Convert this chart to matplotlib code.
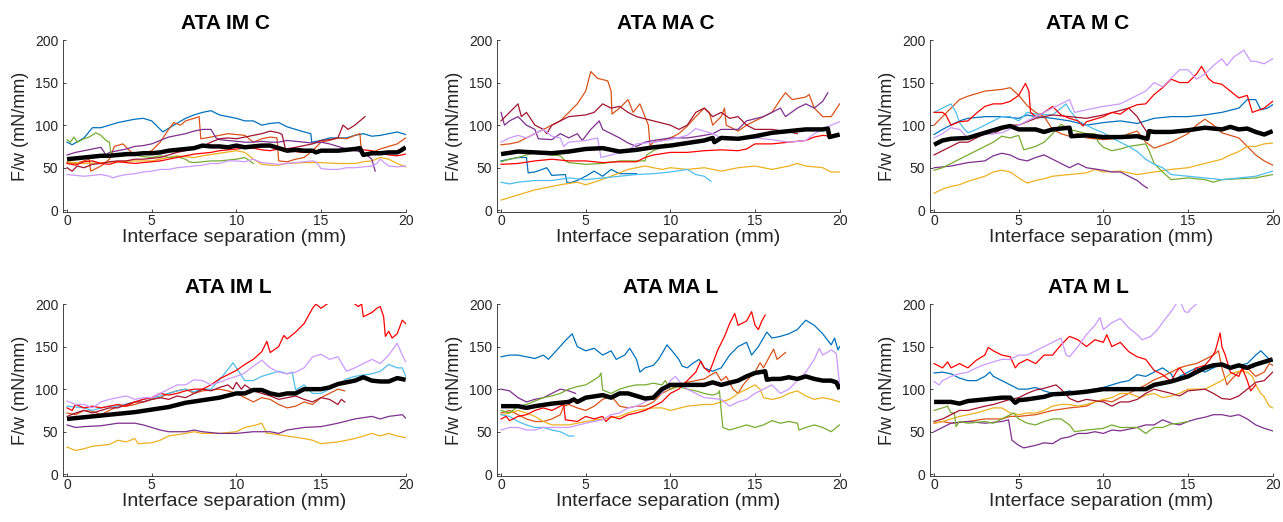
import matplotlib
matplotlib.use("Agg")
import matplotlib.pyplot as plt

# line colours (MATLAB default order plus red and lavender)
blue = '#0072BD'
orange = '#D95319'
yellow = '#EDB120'
purple = '#7E2F8E'
green = '#77AC30'
lightblue = '#4DBEEE'
darkred = '#A2142F'
red = '#FF0000'
lavender = '#CC99FF'

titles = ['ATA IM C', 'ATA MA C', 'ATA M C', 'ATA IM L', 'ATA MA L', 'ATA M L']
xticks = [0, 5, 10, 15, 20]
yticks = [0, 50, 100, 150, 200]

# ---------------- ATA IM C ----------------
imc_blue_x = [0, 0.3, 1, 1.5, 2, 2.5, 3, 3.5, 4, 4.5, 5, 5.66, 6.3, 7, 7.5, 8, 8.5, 9, 9.5, 10, 10.5, 11, 11.5, 12, 12.5, 13, 13.5, 14, 14.4, 14.45, 15, 15.5, 16, 16.5, 17, 17.5, 18, 18.5, 19, 19.5, 20]
imc_blue_y = [80, 77, 85, 97, 97, 100, 103, 105, 107, 108, 105, 92, 100, 108, 112, 115, 117, 112, 110, 108, 105, 105, 100, 102, 103, 98, 95, 92, 90, 80, 82, 85, 85, 85, 88, 90, 87, 88, 90, 92, 89]
imc_orange_x = [0, 0.5, 1, 1.3, 1.4, 2, 2.5, 2.8, 3.3, 3.8, 4.3, 5, 5.5, 6, 6.3, 6.7, 7, 7.5, 7.8, 7.9, 8.5, 9, 9.5, 10, 10.5, 11, 11.5, 12, 12.4, 12.5, 13, 13.5, 14, 14.5, 15, 15.5, 16, 16.5, 17, 17.3, 17.4, 18, 18.5, 19, 19.5, 20]
imc_orange_y = [56, 55, 58, 60, 46, 52, 60, 75, 78, 68, 66, 70, 80, 95, 103, 100, 105, 108, 110, 84, 86, 88, 90, 89, 88, 80, 84, 86, 85, 58, 57, 60, 62, 70, 80, 82, 85, 84, 88, 90, 65, 68, 72, 75, 78, 85]
imc_yellow_x = [0, 1, 2, 3, 4, 5, 5.5, 6, 6.5, 7, 7.5, 8, 9, 10, 10.5, 11, 11.5, 12, 12.5, 13, 14, 15, 16, 17, 17.5, 18, 18.5, 19, 19.5, 20]
imc_yellow_y = [57, 55, 56, 57, 58, 58, 60, 62, 64, 63, 62, 64, 67, 70, 68, 60, 54, 53, 53, 55, 56, 56, 55, 55, 57, 58, 62, 60, 55, 51]
imc_purple_x = [0, 0.5, 1, 1.5, 2, 2.3, 2.5, 3, 3.5, 4, 4.5, 5, 5.5, 6, 6.5, 7, 7.5, 8, 8.5, 8.8, 9, 9.5, 10, 10.5, 11, 11.5, 12, 12.5, 13, 13.5, 14, 14.5, 15, 15.5, 16, 16.5, 17, 17.5, 18, 18.2]
imc_purple_y = [65, 68, 70, 72, 74, 65, 68, 70, 72, 75, 76, 78, 82, 86, 88, 90, 93, 95, 95, 85, 83, 82, 81, 80, 80, 81, 80, 80, 82, 81, 80, 79, 80, 78, 75, 72, 70, 68, 60, 46]
imc_green_x = [0, 0.2, 0.4, 0.6, 0.8, 1, 1.3, 1.7, 2, 2.3, 2.5, 2.6, 3, 3.5, 4, 4.5, 5, 5.5, 6, 6.5, 7, 7.2, 7.5, 8, 8.5, 9, 9.5, 10, 10.5, 11]
imc_green_y = [83, 80, 86, 80, 82, 84, 86, 91, 88, 82, 80, 66, 63, 64, 65, 63, 62, 64, 62, 63, 60, 57, 56, 57, 58, 58, 59, 60, 62, 55]
imc_darkred_x = [0, 0.3, 0.6, 1, 1.5, 2, 2.5, 3, 3.5, 4, 4.5, 5, 5.5, 6, 6.5, 7, 7.5, 8, 8.5, 9, 9.5, 10, 10.5, 11, 11.5, 12, 12.5, 12.7, 12.9, 13.5, 14, 14.5, 15, 15.5, 16, 16.3, 16.6, 17, 17.3, 17.6]
imc_darkred_y = [50, 46, 52, 50, 54, 55, 57, 58, 58, 60, 60, 61, 62, 65, 68, 70, 72, 75, 80, 84, 85, 84, 86, 88, 90, 93, 91, 89, 72, 74, 76, 78, 82, 83, 85, 100, 95, 100, 105, 110]
imc_red_x = [0, 0.5, 1, 1.5, 2, 2.5, 3, 3.5, 4, 4.5, 5, 5.5, 6, 6.5, 7, 7.5, 8, 8.5, 9, 9.5, 10, 10.5, 11, 11.5, 12, 12.5, 13, 13.5, 14, 14.5, 15, 15.5, 16, 16.5, 17, 17.5, 18, 18.5, 19, 19.5, 20]
imc_red_y = [55, 53, 57, 58, 55, 54, 57, 56, 55, 56, 57, 58, 60, 62, 64, 66, 67, 68, 70, 71, 72, 73, 73, 71, 70, 72, 70, 69, 68, 69, 70, 71, 70, 71, 72, 71, 70, 67, 65, 64, 66]
imc_lavender_x = [0, 0.5, 1, 1.5, 2, 2.5, 2.7, 3, 3.5, 4, 4.5, 5, 5.5, 6, 6.5, 7, 7.5, 8, 8.5, 9, 9.5, 10, 10.5, 11, 11.5, 12, 12.5, 13, 13.5, 14, 14.5, 14.7, 15, 15.5, 16, 16.5, 17, 17.5, 18, 18.3, 18.5, 18.8, 19, 19.5, 20]
imc_lavender_y = [42, 41, 40, 41, 42, 40, 38, 40, 42, 43, 45, 46, 48, 48, 50, 51, 52, 53, 55, 55, 58, 58, 57, 60, 56, 55, 54, 55, 56, 57, 58, 57, 49, 48, 48, 50, 50, 51, 52, 55, 60, 55, 52, 51, 52]
imc_mean_x = [0, 0.5, 1, 1.5, 2, 2.5, 3, 3.5, 4, 4.5, 5, 5.5, 6, 6.5, 7, 7.5, 8, 8.5, 9, 9.5, 10, 10.5, 11, 11.5, 12, 12.5, 13, 13.5, 14, 14.5, 14.7, 15, 15.5, 16, 16.5, 17, 17.3, 17.5, 18, 18.5, 19, 19.5, 19.7, 20]
imc_mean_y = [60, 61, 62, 63, 64, 64, 65, 66, 66, 67, 67, 68, 70, 71, 72, 73, 76, 75, 75, 74, 76, 74, 75, 76, 76, 73, 70, 71, 70, 70, 68, 70, 70, 70, 71, 72, 73, 65, 67, 67, 68, 68, 70, 74]

# ---------------- ATA MA C ----------------
mac_orange_x = [0, 0.5, 1, 1.5, 2, 2.5, 3, 3.5, 4, 4.5, 5, 5.3, 5.7, 6.3, 6.5, 6.55, 7, 7.5, 7.8, 8.2, 8.5, 8.7, 8.8, 9, 9.5, 10, 10.5, 11, 11.5, 12, 12.3, 12.5, 13, 13.2, 13.3, 14, 14.5, 15, 15.5, 16, 16.5, 16.8, 17.2, 18, 18.2, 18.5, 19, 19.5, 20]
mac_orange_y = [77, 78, 80, 85, 90, 95, 100, 105, 115, 125, 140, 163, 155, 152, 140, 113, 120, 130, 115, 125, 110, 100, 76, 80, 82, 85, 90, 99, 110, 120, 115, 100, 110, 120, 100, 93, 100, 105, 110, 115, 130, 138, 130, 133, 136, 120, 110, 110, 125]
mac_darkred_x = [0, 0.5, 1, 1.2, 1.5, 2, 2.5, 2.7, 3, 3.5, 4, 5, 5.5, 6, 6.5, 7, 7.5, 8, 9, 10, 10.5, 11, 11.5, 12, 12.5, 13, 13.5, 14, 14.5, 15, 16, 17, 17.5]
mac_darkred_y = [105, 115, 125, 110, 115, 100, 95, 90, 100, 105, 110, 112, 115, 125, 120, 122, 115, 110, 105, 100, 95, 100, 115, 120, 110, 115, 108, 110, 100, 95, 95, 92, 90]
mac_purple_x = [0, 0.2, 0.5, 1, 1.5, 2, 2.2, 3, 3.5, 4, 4.5, 4.8, 5.3, 5.8, 6, 6.5, 7, 7.5, 8, 8.5, 9, 10, 11, 12, 12.5, 13, 14, 14.5, 15.5, 16, 16.5, 16.8, 17.5, 18, 18.5, 19, 19.3]
mac_purple_y = [115, 100, 105, 110, 100, 95, 84, 83, 90, 85, 90, 82, 95, 105, 95, 90, 85, 79, 75, 80, 82, 85, 85, 88, 90, 95, 95, 105, 110, 115, 120, 110, 120, 125, 120, 128, 138]
mac_lavender_x = [0, 0.5, 1, 1.5, 2, 2.5, 3, 3.5, 3.7, 4, 5, 5.7, 5.9, 6.5, 7.5, 8, 9, 10, 11, 11.5, 12, 12.5, 13, 14, 15, 16, 17, 18, 18.5, 19, 19.5, 20]
mac_lavender_y = [80, 85, 88, 85, 90, 95, 87, 85, 75, 80, 82, 85, 62, 65, 70, 78, 80, 83, 88, 96, 93, 90, 85, 85, 85, 83, 80, 82, 90, 95, 100, 104]
mac_red_x = [0, 1, 2, 3, 4, 5, 6, 7, 8, 8.5, 9, 10, 11, 12, 13, 14, 14.5, 15, 16, 17, 18, 18.5, 19, 19.5, 20]
mac_red_y = [54, 55, 58, 60, 58, 58, 56, 57, 57, 62, 65, 68, 68, 70, 71, 70, 72, 78, 78, 80, 82, 86, 88, 87, 88]
mac_green_x = [0, 0.5, 1, 1.5, 2, 2.5, 3, 3.5, 3.8, 4, 5, 6, 7, 8, 8.5, 8.6, 9, 9.5, 9.7, 10]
mac_green_y = [57, 60, 62, 65, 68, 66, 65, 64, 58, 56, 54, 55, 58, 58, 58, 65, 70, 74, 78, 75]
mac_blue_x = [0, 0.5, 1, 1.5, 1.6, 2, 2.7, 3, 3.8, 3.9, 4.2, 4.5, 5, 5.5, 6, 6.5, 7, 8]
mac_blue_y = [58, 60, 62, 62, 44, 45, 50, 41, 42, 32, 33, 35, 40, 46, 40, 48, 43, 43]
mac_lightblue_x = [0, 0.5, 1, 2, 3, 4, 5, 6, 7, 8, 9, 10, 11, 11.5, 12, 12.4]
mac_lightblue_y = [33, 31, 33, 35, 35, 38, 36, 38, 40, 42, 43, 45, 48, 42, 40, 34]
mac_yellow_x = [0, 1, 2, 3, 3.5, 4.5, 5, 5.5, 6.5, 7.5, 8.5, 9.5, 10, 11, 12, 13, 14, 15, 16, 17, 17.5, 18, 19, 19.5, 20]
mac_yellow_y = [12, 18, 24, 28, 30, 33, 30, 33, 40, 48, 52, 48, 50, 48, 50, 46, 50, 52, 48, 52, 55, 52, 50, 45, 45]
mac_mean_x = [0, 1, 2, 3, 4, 5, 6, 7, 8, 9, 10, 11, 12, 12.5, 12.6, 13, 14, 15, 16, 17, 18, 19, 19.3, 19.4, 20]
mac_mean_y = [66, 69, 68, 67, 69, 72, 73, 69, 71, 74, 76, 79, 82, 85, 80, 85, 84, 87, 91, 93, 95, 95, 96, 86, 89]

# ---------------- ATA M C ----------------
mc_lavender_x = [0, 0.5, 1, 1.5, 2, 2.5, 3.5, 4, 5, 5.5, 6, 6.5, 7, 7.5, 8, 8.3, 9, 10, 11, 11.5, 12, 12.5, 13, 13.5, 14, 14.5, 15, 15.5, 16, 16.5, 17, 17.3, 17.7, 18.3, 18.7, 19, 19.5, 20]
mc_lavender_y = [85, 90, 97, 95, 85, 90, 90, 91, 100, 105, 110, 115, 120, 125, 130, 115, 118, 122, 125, 130, 135, 140, 150, 145, 155, 165, 165, 154, 160, 170, 178, 170, 180, 188, 175, 175, 172, 178]
mc_red_x = [0, 0.5, 0.7, 1, 1.5, 2, 2.5, 3, 3.5, 4, 4.5, 5, 5.4, 5.6, 5.7, 6, 6.5, 7, 7.5, 8, 8.5, 8.8, 9, 10, 10.5, 11, 11.5, 12, 12.5, 13, 13.5, 14, 14.5, 15, 15.5, 15.8, 16.2, 16.5, 17, 17.5, 18, 18.5, 18.8, 19.5, 20]
mc_red_y = [115, 115, 112, 100, 104, 105, 114, 122, 125, 125, 128, 135, 149, 140, 115, 110, 115, 122, 112, 108, 105, 99, 104, 110, 115, 113, 120, 124, 125, 136, 144, 154, 150, 150, 160, 169, 155, 150, 148, 140, 132, 135, 115, 120, 128]
mc_orange_x = [0, 0.5, 1, 1.5, 2, 3, 4, 4.5, 5, 5.5, 6, 6.5, 7, 7.5, 8, 8.5, 9, 10, 11, 11.5, 12, 12.5, 13, 14, 15, 15.5, 16, 16.5, 17, 18, 18.5, 19, 19.5, 20]
mc_orange_y = [100, 110, 120, 130, 134, 140, 142, 144, 135, 123, 115, 110, 95, 90, 87, 90, 85, 83, 85, 90, 93, 80, 73, 80, 90, 100, 107, 100, 91, 85, 75, 65, 58, 53]
mc_lightblue_x = [0, 0.5, 1, 1.3, 1.5, 1.8, 2, 2.5, 3, 3.5, 4, 4.5, 5, 5.5, 6, 7, 7.5, 7.8, 8, 8.5, 9, 9.5, 10, 10.5, 11, 11.5, 12, 12.5, 13, 13.5, 14, 15, 16, 17, 18, 19, 20]
mc_lightblue_y = [115, 120, 125, 115, 103, 95, 91, 95, 100, 105, 110, 110, 105, 115, 113, 112, 120, 125, 118, 105, 100, 95, 91, 85, 80, 75, 69, 60, 54, 50, 42, 40, 38, 36, 38, 40, 46]
mc_blue_x = [0, 0.5, 1, 1.5, 2, 3, 4, 5, 5.5, 6, 7, 8, 9, 10, 11, 12, 13, 14, 15, 16, 17, 18, 18.5, 19, 19.3, 19.7, 20]
mc_blue_y = [89, 95, 100, 105, 108, 110, 110, 108, 112, 110, 108, 105, 100, 103, 105, 102, 108, 110, 110, 112, 115, 120, 130, 130, 118, 120, 124]
mc_darkred_x = [0, 0.5, 1, 1.5, 2, 2.5, 3, 3.5, 4, 4.5, 5, 6, 7, 8, 9, 10, 11.5, 12, 12.3, 12.6]
mc_darkred_y = [65, 70, 75, 80, 80, 85, 90, 90, 95, 100, 100, 108, 112, 110, 108, 112, 120, 110, 100, 91]
mc_green_x = [0, 0.5, 1, 1.5, 2, 2.5, 3, 3.5, 4, 4.5, 5, 5.3, 6, 6.5, 7, 7.5, 8, 9, 9.5, 9.7, 10, 10.5, 11, 11.5, 12.5, 12.7, 13, 13.5, 14, 15, 16, 16.5, 17, 18, 19, 20]
mc_green_y = [47, 50, 55, 60, 65, 70, 75, 80, 87, 85, 88, 71, 75, 80, 90, 101, 95, 90, 90, 80, 74, 70, 72, 75, 78, 70, 55, 45, 36, 38, 36, 33, 36, 37, 38, 42]
mc_purple_x = [0, 1, 2, 3, 3.5, 4, 4.5, 5, 5.5, 6, 6.5, 7, 7.5, 8, 8.5, 9, 10, 10.5, 11, 11.5, 12, 12.3, 12.6]
mc_purple_y = [50, 52, 56, 58, 64, 67, 65, 60, 58, 62, 65, 60, 55, 50, 55, 50, 47, 45, 45, 40, 35, 30, 26]
mc_yellow_x = [0, 0.5, 1, 1.5, 2, 3, 3.5, 4, 4.5, 5, 5.5, 6, 6.5, 7, 8, 9, 9.5, 10, 11, 12, 13, 14, 15, 16, 17, 17.5, 18, 18.5, 19, 19.5, 20]
mc_yellow_y = [20, 25, 28, 30, 34, 40, 45, 47, 45, 38, 32, 35, 37, 40, 42, 44, 48, 45, 46, 42, 45, 48, 50, 55, 60, 65, 69, 75, 75, 78, 79]
mc_mean_x = [0, 0.5, 1, 2, 3, 4, 4.5, 5, 6, 6.5, 7, 8, 8.1, 9, 10, 11, 12, 12.6, 12.7, 13, 14, 15, 16, 17, 17.5, 18, 18.5, 19, 19.5, 20]
mc_mean_y = [77, 82, 84, 85, 91, 97, 99, 95, 95, 92, 95, 97, 87, 88, 86, 86, 87, 84, 93, 92, 92, 94, 97, 95, 98, 95, 96, 92, 89, 93]

# ---------------- ATA IM L ----------------
iml_red_x = [0, 0.3, 0.5, 1, 1.5, 2, 2.5, 3, 3.5, 4, 4.5, 5, 5.5, 6, 6.5, 7, 7.5, 8, 8.5, 9, 9.5, 10, 10.5, 11, 11.5, 11.8, 12, 12.5, 12.8, 13, 13.5, 14, 14.5, 14.7, 15, 15.5, 16, 16.5, 17, 17.2, 17.4, 17.5, 18, 18.3, 18.5, 18.7, 18.8, 19, 19.2, 19.5, 19.8, 20]
iml_red_y = [78, 75, 82, 78, 80, 78, 80, 82, 80, 85, 88, 90, 95, 93, 95, 98, 100, 100, 105, 112, 117, 122, 129, 135, 144, 156, 143, 150, 163, 159, 167, 177, 195, 200, 195, 202, 210, 205, 200, 197, 200, 185, 190, 195, 197, 185, 162, 168, 160, 165, 181, 177]
iml_lavender_x = [0, 0.5, 1, 1.5, 2, 2.5, 3, 3.5, 4, 4.5, 5, 5.5, 6, 6.5, 7, 7.5, 8, 8.5, 9, 9.5, 10, 10.5, 11, 11.5, 12, 12.5, 13, 13.5, 14, 14.5, 15, 15.5, 16, 16.5, 17, 17.5, 18, 18.5, 19, 19.5, 19.8, 20]
iml_lavender_y = [86, 82, 82, 78, 85, 88, 90, 92, 88, 90, 90, 95, 100, 105, 105, 111, 110, 105, 108, 112, 115, 119, 127, 134, 125, 120, 118, 120, 125, 138, 141, 135, 138, 121, 125, 130, 135, 130, 140, 154, 140, 132]
iml_lightblue_x = [0, 1, 1.5, 2, 2.5, 3, 4, 4.5, 5, 5.5, 6, 6.5, 7, 7.5, 8, 8.5, 9, 9.5, 9.8, 10, 10.5, 11, 11.5, 12, 12.5, 13, 13.3, 13.5, 14, 14.5, 15, 15.5, 16, 16.5, 17, 18, 18.5, 19, 19.5, 19.8, 20]
iml_lightblue_y = [80, 78, 75, 78, 80, 80, 85, 88, 90, 92, 95, 98, 100, 97, 100, 100, 111, 123, 131, 125, 110, 110, 115, 118, 121, 118, 120, 99, 105, 95, 95, 100, 105, 112, 115, 118, 121, 129, 125, 125, 115]
iml_darkred_x = [0, 0.5, 1, 1.5, 2, 2.5, 3, 3.5, 4, 4.5, 5, 5.5, 6, 6.5, 7, 7.5, 8, 8.5, 9, 9.5, 9.8, 10, 10.3, 10.5, 11, 11.5, 12, 12.5, 13, 13.5, 14, 14.5, 15, 15.5, 16, 16.2, 16.4]
iml_darkred_y = [68, 72, 75, 72, 75, 78, 78, 82, 85, 85, 88, 90, 88, 92, 90, 95, 100, 98, 102, 105, 100, 108, 100, 105, 98, 95, 92, 88, 90, 92, 88, 85, 90, 88, 82, 88, 85]
iml_orange_x = [0, 0.5, 1, 1.5, 2, 2.5, 3, 3.5, 4, 4.5, 5, 5.5, 6, 6.5, 7, 7.5, 8, 9, 9.5, 10, 10.5, 11, 11.5, 12, 12.5, 13, 13.5, 14, 14.5, 15, 15.5, 16, 16.4]
iml_orange_y = [72, 70, 75, 74, 70, 75, 80, 80, 82, 85, 88, 90, 95, 98, 100, 95, 98, 100, 98, 95, 90, 85, 90, 88, 82, 78, 80, 85, 82, 90, 95, 100, 98]
iml_purple_x = [0, 0.5, 1, 2, 3, 4, 4.5, 5, 5.5, 6, 7, 7.5, 8, 9, 10, 11, 12, 12.5, 13, 14, 15, 16, 17, 18, 18.5, 19, 19.8, 20]
iml_purple_y = [58, 55, 56, 57, 60, 60, 58, 55, 52, 50, 50, 52, 50, 48, 48, 50, 50, 48, 52, 55, 56, 60, 65, 68, 65, 68, 70, 66]
iml_yellow_x = [0, 0.5, 1, 1.5, 2.5, 3, 3.5, 4, 4.2, 5, 5.5, 6, 7, 7.5, 8, 9, 10, 10.5, 11, 11.5, 11.8, 12, 13, 14, 14.5, 15, 16, 17, 17.5, 18, 18.5, 19, 19.5, 20]
iml_yellow_y = [32, 28, 30, 33, 35, 40, 38, 42, 36, 37, 40, 45, 48, 50, 48, 48, 50, 55, 57, 60, 48, 48, 45, 42, 40, 36, 38, 42, 45, 48, 45, 48, 45, 43]
iml_mean_x = [0, 1, 2, 3, 4, 5, 6, 7, 8, 9, 10, 10.5, 11, 11.5, 12, 12.5, 13, 13.5, 14, 15, 15.5, 16, 16.5, 17, 17.5, 18, 18.5, 19, 19.5, 20]
iml_mean_y = [65, 67, 69, 71, 73, 76, 79, 84, 87, 90, 95, 95, 99, 99, 95, 93, 95, 95, 100, 100, 102, 106, 108, 110, 114, 110, 109, 109, 113, 111]

# ---------------- ATA MA L ----------------
mal_blue_x = [0, 0.5, 1, 1.5, 2, 2.5, 2.8, 3.3, 3.8, 4.2, 4.5, 5, 5.5, 6, 6.5, 6.8, 7.3, 7.6, 8, 8.2, 8.5, 9, 9.3, 9.6, 9.8, 10.1, 10.5, 10.7, 11, 11.3, 11.7, 12, 12.5, 13, 13.5, 14, 14.5, 14.8, 15.2, 15.7, 16, 16.5, 17, 17.5, 18, 18.5, 19, 19.5, 19.7, 19.9, 20]
mal_blue_y = [138, 140, 140, 138, 136, 140, 135, 146, 157, 165, 150, 145, 148, 140, 145, 135, 140, 148, 135, 120, 125, 128, 135, 145, 152, 145, 135, 127, 125, 130, 135, 125, 121, 125, 140, 150, 155, 140, 150, 167, 160, 162, 165, 170, 181, 175, 165, 152, 160, 146, 150]
mal_red_x = [0, 0.3, 0.5, 1, 1.5, 2, 2.5, 3, 3.5, 3.7, 3.8, 4.5, 5, 5.5, 6, 6.2, 6.5, 7, 7.5, 8, 8.5, 9, 9.5, 10, 10.5, 11, 11.5, 11.8, 12, 12.3, 12.5, 12.8, 13.2, 13.5, 13.8, 14, 14.5, 14.8, 15, 15.2, 15.4, 15.6]
mal_red_y = [65, 68, 63, 68, 70, 75, 78, 75, 80, 82, 64, 62, 68, 65, 68, 62, 68, 65, 70, 72, 75, 80, 85, 95, 100, 110, 120, 133, 125, 120, 130, 146, 162, 177, 189, 175, 180, 191, 175, 170, 180, 187]
mal_green_x = [0, 0.5, 1, 1.5, 2, 2.5, 3, 3.5, 4, 4.5, 5, 5.5, 5.8, 5.9, 6, 6.5, 7, 7.5, 8, 8.5, 9, 9.5, 9.7, 10, 10.5, 11, 11.5, 12, 12.5, 12.8, 12.9, 13, 13.1, 13.5, 14, 14.5, 15, 15.5, 16, 16.5, 17, 17.5, 17.6, 18, 18.5, 19, 19.5, 19.8, 20]
mal_green_y = [75, 72, 80, 82, 86, 90, 92, 95, 100, 103, 105, 111, 115, 119, 99, 95, 100, 103, 105, 105, 107, 105, 110, 100, 103, 100, 98, 95, 93, 95, 98, 75, 55, 52, 55, 58, 55, 58, 63, 60, 62, 60, 52, 55, 58, 55, 50, 55, 58]
mal_orange_x = [0, 0.5, 1, 1.5, 2, 2.5, 3, 3.5, 3.7, 4, 4.5, 5, 5.5, 6, 6.5, 6.8, 7, 7.5, 8, 8.5, 9, 9.5, 10, 10.5, 11, 11.5, 12, 12.5, 12.7, 13, 13.3, 13.7, 14, 14.3, 14.5, 15, 15.3, 15.5, 15.9, 16.1, 16.3, 16.5, 16.8]
mal_orange_y = [72, 75, 70, 65, 62, 62, 65, 70, 80, 82, 78, 75, 80, 88, 92, 85, 80, 78, 80, 80, 85, 95, 100, 105, 108, 110, 112, 118, 120, 110, 115, 100, 95, 105, 110, 120, 131, 125, 140, 147, 135, 138, 143]
mal_yellow_x = [0, 0.5, 1, 1.5, 2, 2.5, 3, 4, 5, 6, 7, 7.5, 8, 9, 9.5, 10, 11, 12, 12.5, 13.5, 14, 14.5, 15, 15.3, 15.5, 16, 16.5, 17, 17.5, 18, 18.5, 19, 19.5, 20]
mal_yellow_y = [70, 72, 75, 72, 68, 62, 58, 58, 62, 65, 68, 72, 75, 78, 78, 75, 80, 82, 82, 88, 95, 100, 105, 100, 90, 88, 90, 95, 98, 92, 88, 90, 88, 85]
mal_lavender_x = [0, 0.5, 1, 1.5, 2, 2.5, 3, 4, 5, 5.5, 6, 6.5, 7, 7.5, 8, 8.5, 9, 9.5, 10, 10.3, 10.7, 11, 11.5, 12, 13, 13.5, 14, 14.5, 15, 15.5, 16, 16.5, 17, 17.5, 18, 18.5, 18.8, 19, 19.5, 19.8, 20]
mal_lavender_y = [52, 55, 55, 52, 52, 55, 55, 55, 60, 62, 64, 70, 72, 78, 80, 85, 90, 95, 110, 115, 105, 100, 95, 90, 88, 80, 85, 88, 95, 100, 105, 95, 100, 110, 120, 135, 148, 140, 146, 142, 105]
mal_purple_x = [0, 0.5, 1, 1.5, 2, 2.5, 3, 3.5, 4, 4.4]
mal_purple_y = [100, 98, 90, 85, 88, 90, 95, 100, 98, 95]
mal_lightblue_x = [0, 0.5, 1, 1.5, 2, 2.5, 3, 3.5, 4, 4.3]
mal_lightblue_y = [70, 68, 62, 58, 55, 55, 52, 50, 45, 45]
mal_mean_x = [0, 1, 1.5, 2, 3, 4, 4.3, 4.5, 5, 6, 6.5, 7, 7.5, 8, 8.5, 9, 9.5, 10, 11, 12, 12.5, 13, 14, 14.5, 15, 15.6, 15.7, 16, 16.5, 17, 17.5, 18, 18.5, 19, 19.5, 19.8, 20]
mal_mean_y = [80, 80, 78, 80, 83, 85, 88, 85, 90, 93, 90, 95, 95, 92, 89, 90, 100, 105, 105, 105, 108, 105, 110, 115, 119, 121, 111, 112, 112, 114, 112, 115, 112, 110, 110, 108, 100]

# ---------------- ATA M L ----------------
ml_lavender_x = [0, 0.3, 0.5, 1, 1.5, 2, 2.5, 3, 3.5, 4, 4.5, 5, 5.5, 6, 6.5, 7, 7.5, 7.8, 8, 8.5, 9, 9.5, 9.8, 10, 10.5, 11, 11.5, 12, 12.3, 12.8, 13.2, 13.6, 14, 14.3, 14.5, 14.8, 15, 15.2, 15.5]
ml_lavender_y = [109, 105, 110, 115, 118, 120, 125, 129, 132, 135, 135, 140, 140, 145, 150, 155, 160, 140, 138, 150, 164, 175, 184, 170, 178, 183, 172, 164, 158, 162, 170, 181, 191, 200, 205, 191, 190, 195, 200]
ml_red_x = [0, 0.5, 0.8, 1, 1.5, 2, 2.5, 3, 3.2, 3.5, 4, 4.5, 4.8, 5, 5.5, 6, 6.5, 7, 7.5, 8, 8.5, 9, 9.5, 10, 10.2, 10.5, 11, 11.5, 12, 12.5, 13, 13.5, 14, 14.3, 14.5, 15, 15.5, 16, 16.3, 16.6, 16.9, 17, 17.2, 17.5, 18, 18.2, 18.5, 18.7, 19]
ml_red_y = [130, 125, 132, 125, 130, 125, 134, 140, 149, 145, 140, 138, 125, 130, 135, 130, 140, 140, 152, 162, 158, 150, 158, 155, 164, 150, 155, 144, 138, 135, 122, 117, 109, 120, 125, 113, 125, 128, 135, 144, 166, 150, 140, 120, 115, 125, 110, 98, 105]
ml_blue_x = [0, 0.5, 1, 1.5, 2, 2.5, 3, 3.3, 3.5, 4, 4.5, 5, 5.5, 6, 6.5, 7, 7.5, 8, 8.5, 9, 9.5, 10, 10.5, 11, 11.5, 12, 12.5, 13, 13.5, 14, 14.2, 14.5, 15, 15.5, 16, 16.5, 17, 17.5, 18, 18.5, 19, 19.3, 19.8, 20]
ml_blue_y = [119, 120, 118, 113, 110, 110, 115, 120, 115, 110, 105, 100, 100, 102, 98, 95, 95, 98, 95, 98, 100, 102, 105, 108, 110, 117, 115, 120, 125, 118, 110, 115, 120, 125, 120, 125, 130, 125, 128, 130, 140, 145, 135, 133]
ml_darkred_x = [0, 0.5, 1, 1.5, 2, 3, 3.5, 4, 4.5, 5, 5.5, 6, 6.5, 7.2, 7.5, 8, 8.5, 9, 10, 10.5, 11, 11.5, 12, 12.5, 13, 14, 14.5, 15, 16, 16.5, 17, 17.5, 18, 18.5, 19, 19.5, 20]
ml_darkred_y = [62, 65, 70, 75, 75, 80, 82, 85, 88, 90, 95, 99, 101, 105, 100, 89, 85, 88, 85, 80, 85, 85, 88, 95, 100, 95, 92, 98, 100, 95, 89, 88, 92, 100, 108, 110, 120]
ml_orange_x = [0, 0.5, 1, 2, 3, 4, 4.5, 5, 6, 7, 8, 9, 9.5, 10, 10.5, 11, 11.5, 12, 12.5, 13, 13.5, 14, 14.5, 15, 15.5, 16, 16.5, 16.8, 17, 17.3, 17.5, 18, 18.5, 19, 19.5, 19.8, 20]
ml_orange_y = [60, 62, 60, 62, 65, 65, 68, 68, 70, 75, 78, 80, 85, 87, 85, 90, 95, 100, 105, 111, 115, 120, 125, 128, 130, 135, 140, 145, 125, 105, 110, 120, 125, 115, 120, 130, 128]
ml_yellow_x = [0, 0.5, 1, 1.5, 2, 2.5, 3, 3.5, 4, 4.5, 5, 5.5, 6, 6.5, 7, 7.5, 8, 8.5, 9, 9.5, 10, 10.5, 11, 11.5, 12.2, 12.5, 13, 13.5, 14, 14.5, 15, 16, 16.5, 17, 17.5, 18, 18.5, 18.8, 19, 19.3, 19.5, 19.8, 20]
ml_yellow_y = [60, 62, 65, 68, 70, 72, 75, 78, 78, 72, 70, 72, 72, 75, 80, 82, 82, 80, 82, 85, 88, 90, 95, 95, 90, 93, 95, 90, 92, 95, 100, 100, 105, 110, 118, 121, 120, 115, 105, 95, 91, 80, 78]
ml_green_x = [0, 0.5, 0.8, 1, 1.2, 1.3, 1.5, 2, 3, 3.5, 4, 4.5, 4.7, 5, 5.5, 6, 6.5, 7, 7.5, 8, 8.3, 9, 10, 10.5, 11, 12, 12.5, 13, 13.5, 14, 14.5, 15]
ml_green_y = [75, 78, 80, 72, 72, 56, 62, 60, 62, 60, 65, 70, 72, 65, 60, 58, 62, 65, 65, 58, 50, 52, 54, 58, 55, 55, 48, 55, 55, 59, 60, 62]
ml_purple_x = [0, 0.5, 1, 2, 3, 4, 4.4, 4.6, 5, 5.3, 6, 6.5, 7, 7.5, 8, 8.5, 9, 9.5, 10, 10.5, 11, 12, 12.5, 13, 13.5, 14, 14.5, 15, 15.5, 16, 16.5, 17, 17.5, 18, 18.5, 19, 19.5, 20]
ml_purple_y = [50, 55, 60, 62, 60, 62, 64, 40, 34, 31, 34, 37, 36, 42, 44, 48, 48, 50, 48, 52, 51, 55, 58, 58, 64, 60, 58, 62, 65, 67, 70, 70, 68, 70, 65, 58, 54, 51]
ml_mean_x = [0, 1, 1.5, 2, 3, 4, 4.5, 4.8, 5, 5.5, 6.5, 7, 8, 9, 10, 11, 12, 12.5, 13, 13.5, 14, 14.5, 15, 15.5, 16, 16.5, 17, 17.5, 18, 18.5, 19, 19.5, 20]
ml_mean_y = [85, 85, 83, 86, 88, 90, 90, 84, 87, 88, 91, 94, 95, 97, 100, 100, 100, 100, 105, 107, 109, 112, 115, 120, 125, 128, 129, 125, 128, 125, 129, 132, 135]

panels = [
    [(imc_blue_x, imc_blue_y, blue), (imc_orange_x, imc_orange_y, orange),
     (imc_yellow_x, imc_yellow_y, yellow), (imc_purple_x, imc_purple_y, purple),
     (imc_green_x, imc_green_y, green), (imc_darkred_x, imc_darkred_y, darkred),
     (imc_red_x, imc_red_y, red), (imc_lavender_x, imc_lavender_y, lavender)],
    [(mac_blue_x, mac_blue_y, blue), (mac_orange_x, mac_orange_y, orange),
     (mac_yellow_x, mac_yellow_y, yellow), (mac_purple_x, mac_purple_y, purple),
     (mac_green_x, mac_green_y, green), (mac_lightblue_x, mac_lightblue_y, lightblue),
     (mac_darkred_x, mac_darkred_y, darkred), (mac_red_x, mac_red_y, red),
     (mac_lavender_x, mac_lavender_y, lavender)],
    [(mc_blue_x, mc_blue_y, blue), (mc_orange_x, mc_orange_y, orange),
     (mc_yellow_x, mc_yellow_y, yellow), (mc_purple_x, mc_purple_y, purple),
     (mc_green_x, mc_green_y, green), (mc_lightblue_x, mc_lightblue_y, lightblue),
     (mc_darkred_x, mc_darkred_y, darkred), (mc_red_x, mc_red_y, red),
     (mc_lavender_x, mc_lavender_y, lavender)],
    [(iml_orange_x, iml_orange_y, orange), (iml_yellow_x, iml_yellow_y, yellow),
     (iml_purple_x, iml_purple_y, purple), (iml_lightblue_x, iml_lightblue_y, lightblue),
     (iml_darkred_x, iml_darkred_y, darkred), (iml_red_x, iml_red_y, red),
     (iml_lavender_x, iml_lavender_y, lavender)],
    [(mal_blue_x, mal_blue_y, blue), (mal_orange_x, mal_orange_y, orange),
     (mal_yellow_x, mal_yellow_y, yellow), (mal_purple_x, mal_purple_y, purple),
     (mal_green_x, mal_green_y, green), (mal_lightblue_x, mal_lightblue_y, lightblue),
     (mal_red_x, mal_red_y, red), (mal_lavender_x, mal_lavender_y, lavender)],
    [(ml_blue_x, ml_blue_y, blue), (ml_orange_x, ml_orange_y, orange),
     (ml_yellow_x, ml_yellow_y, yellow), (ml_purple_x, ml_purple_y, purple),
     (ml_green_x, ml_green_y, green), (ml_darkred_x, ml_darkred_y, darkred),
     (ml_red_x, ml_red_y, red), (ml_lavender_x, ml_lavender_y, lavender)],
]
means = [(imc_mean_x, imc_mean_y), (mac_mean_x, mac_mean_y), (mc_mean_x, mc_mean_y),
         (iml_mean_x, iml_mean_y), (mal_mean_x, mal_mean_y), (ml_mean_x, ml_mean_y)]

plt.rcParams['font.family'] = ['Liberation Sans', 'DejaVu Sans']
ink = '#262626'

W, H = 1283, 522
fig = plt.figure(figsize=(W / 100, H / 100), dpi=100)

# axes boxes in pixels: left edges per column, top edges per row
col_left = [63, 497, 930]
row_top = [40, 304]
ax_w, ax_h = 343, 172
# horizontal title anchors, as a fraction of axes width
title_x = [0.475, 0.491, 0.460, 0.481, 0.507, 0.462]

for i in range(6):
    r, c = divmod(i, 3)
    rect = [col_left[c] / W, (H - row_top[r] - ax_h) / H, ax_w / W, ax_h / H]
    ax = fig.add_axes(rect)

    for x, y, col in panels[i]:
        ax.plot(x, y, color=col, lw=0.9)
    mx, my = means[i]
    ax.plot(mx, my, color='black', lw=3.2, solid_capstyle='butt')

    ax.set_xlim(-0.24, 20.02)
    ax.set_ylim(-2, 200)
    ax.set_xticks(xticks)
    ax.set_yticks(yticks)
    ax.spines['top'].set_visible(False)
    ax.spines['right'].set_visible(False)
    for s in ('left', 'bottom'):
        ax.spines[s].set_color(ink)
        ax.spines[s].set_linewidth(0.6)
    ax.tick_params(direction='in', length=2.5, width=0.6, colors=ink,
                   labelsize=10)
    ax.tick_params(axis='x', pad=1.5)
    ax.tick_params(axis='y', pad=3.5)

    ax.set_title(titles[i], fontsize=15, fontweight='bold', pad=8, x=title_x[i])
    ax.set_xlabel('Interface separation (mm)', fontsize=14, color=ink, labelpad=1)
    ax.set_ylabel('F/w (mN/mm)', fontsize=13, color=ink, labelpad=4)

fig.savefig('out.png', dpi=100)
